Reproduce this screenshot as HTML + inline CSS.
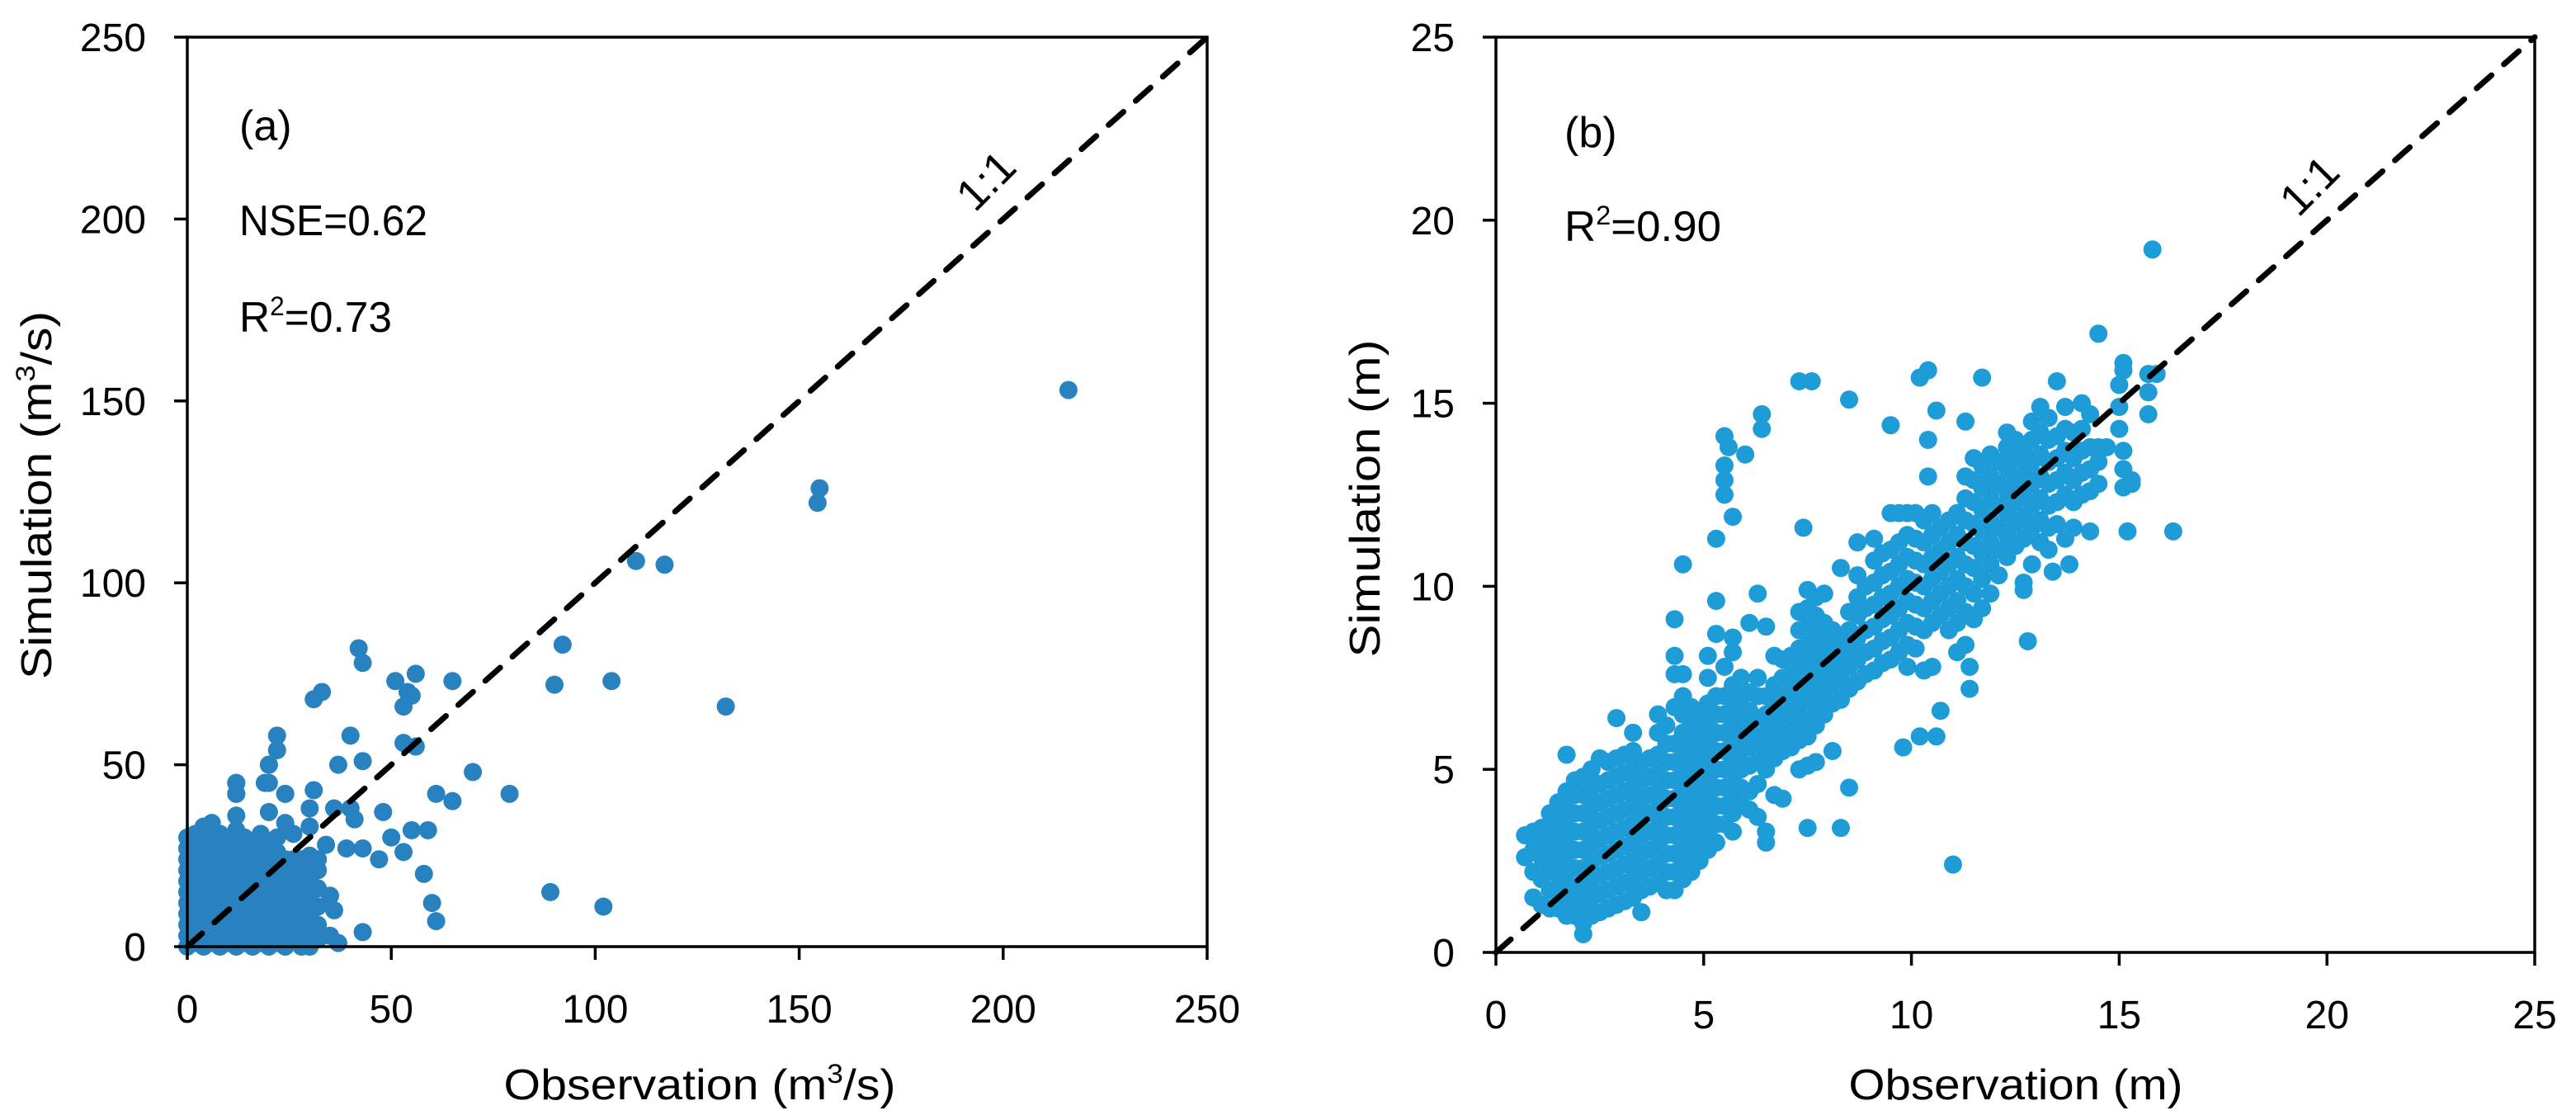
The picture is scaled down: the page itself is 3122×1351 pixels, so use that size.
<!DOCTYPE html>
<html><head><meta charset="utf-8"><style>
html,body{margin:0;padding:0;background:#fff}
svg{display:block}
text{font-family:"Liberation Sans",sans-serif;fill:#000}
</style></head><body>
<svg id="chart" width="3122" height="1351" viewBox="0 0 3122 1351" xmlns="http://www.w3.org/2000/svg">
<g id="pa"></g>
<g id="pb"></g>
</svg>
<script>
// Panel (a) data: columns of observation value with simulated values
const aColObs = [0,2,4,6,8,10,12,14,16,18,20,22,24,26,28,30,32];
const aColSim = [
 [0,3,6,9,12,15,18,21,24,27,30],
 [1,4,7,10,13,16,19,22,25,28,31],
 [0,3,6,9,12,15,18,21,24,27,30,33],
 [1,4,7,10,13,16,19,22,25,28,34],
 [0,3,6,9,12,15,18,21,24,27,31],
 [1,4,7,10,13,16,19,22,25,28],
 [0,3,6,9,12,15,18,21,24,27,32,36,42,45],
 [1,4,7,10,13,16,19,22,25,30],
 [0,3,6,9,12,15,18,21,24,28],
 [1,4,7,10,13,16,19,22,25,31],
 [0,3,6,9,12,15,18,21,25,29,37,45,50],
 [1,4,7,10,13,16,19,22,26,30],
 [0,3,6,9,12,16,20,24,34,42],
 [2,5,8,12,16,20,24,31],
 [0,4,8,12,16,20,24],
 [0,3,7,11,15,18,22,25,33,38],
 [2,6,11,16,21,24]
];
const aOutObs = [216,155,154.5,110,117,92,90,104,132,42,43,51,56,54,55,53,65,33,31,22,22,40,53,56,20,37,43,70,79,61,65,19,12,12,24,31,36,48,40,41,59,55,50,34,39,43,53,47,58,89,102,60,61,35,36,35,43,37,30,27,25];
const aOutSim = [153,126,122,106,105,83,72,73,66,82,78,73,75,70,69,66,73,70,68,58,54,58,56,55,50,50,51,48,42,42,40,45,45,42,42,43,38,37,38,35,32,32,30,28,27,27,26,24,20,15,11,12,7,14,10,3,4,1,8,15,20];
// Panel (b) data
const bColObs = [0.7,0.9,1.1,1.3,1.5,1.7,1.9,2.1,2.3,2.5,2.7,2.9,3.1,3.3,3.5,3.7,3.9,4.1,4.3,4.5,4.7,4.9,5.1,5.3,5.5,5.7,5.9,6.1,6.3,6.5,6.7,6.9,7.1,7.3,7.5,7.7,7.9,8.1,8.3,8.5,8.7,8.9,9.1,9.3,9.5,9.7,9.9,10.1,10.3,10.5,10.7,10.9,11.1,11.3,11.5,11.7,11.9,12.1,12.3,12.5,12.7,12.9,13.1,13.3,13.5,13.7,13.9,14.1,14.3,14.5,14.7,15.0,15.1,15.3,15.7,15.9];
const bColSim = [
 [2.6,3.2],[1.5,2.2,2.8,3.3],[1.3,2.0,2.6,3.1,3.4],[1.2,1.7,2.3,2.9,3.4,3.8],
 [1.2,1.6,2.1,2.6,3.1,3.6,4.1],[1.0,1.5,1.9,2.4,2.9,3.4,3.9,4.4,5.4],
 [1.0,1.4,1.8,2.3,2.8,3.3,3.8,4.3,4.7],[0.5,0.8,1.3,1.8,2.3,2.8,3.3,3.8,4.3,4.8],
 [1.0,1.5,2.0,2.5,3.0,3.5,4.0,4.5,5.0],[1.1,1.6,2.1,2.6,3.1,3.6,4.1,4.6,5.3],
 [1.2,1.7,2.2,2.7,3.2,3.7,4.2,4.7,5.2],[1.3,1.8,2.3,2.8,3.3,3.8,4.3,4.8,5.3,6.4],
 [1.4,1.9,2.4,2.9,3.4,3.9,4.4,4.9,5.4],[1.5,2.0,2.5,3.0,3.5,4.0,4.5,5.0,5.5,6.0],
 [1.1,1.7,2.2,2.7,3.2,3.7,4.2,4.7,5.2],[1.8,2.3,2.8,3.3,3.8,4.3,4.8,5.3],
 [1.9,2.4,2.9,3.4,3.9,4.4,4.9,5.4,6.0,6.5],[1.7,2.2,2.7,3.2,3.7,4.2,4.7,5.2,5.7,6.2],
 [1.7,2.2,2.7,3.2,3.7,4.2,4.7,5.2,5.7,6.7,7.6,8.1],[2.0,2.5,3.0,3.5,4.0,4.5,5.0,5.5,6.0,6.5,7.0,7.6],
 [2.2,2.7,3.2,3.7,4.2,4.7,5.2,5.7,6.2,6.7],[2.5,3.0,3.5,4.0,4.5,5.0,5.5,6.0,6.5],
 [2.8,3.3,3.8,4.3,4.8,5.3,5.8,6.3,6.8,7.5,8.1],[3.0,3.5,4.0,4.5,5.0,5.5,6.0,6.5,7.0,8.7],
 [3.5,4.0,4.5,5.0,5.5,6.0,6.5,7.0,7.8],[3.3,3.8,4.3,4.8,5.3,5.8,6.3,6.8,7.3,8.2,8.6],
 [4.0,4.5,5.0,5.5,6.0,6.5,7.0,7.5],[3.9,4.4,5.1,5.6,6.1,6.6,7.1,9.0],
 [3.7,4.6,5.2,5.8,6.4,7.0,7.5],[5.0,5.5,6.0,6.5,7.0,8.9],
 [4.3,5.3,5.8,6.3,6.8,7.3,8.1],[4.2,5.5,6.0,6.5,7.0,7.5,8.0],
 [5.6,6.1,6.6,7.1,7.6,8.1],[5.0,5.8,6.3,6.8,7.3,7.8,8.3,8.8,9.3],
 [5.1,5.9,6.4,6.9,7.4,7.9,8.4,8.9,9.4,9.9],[5.2,6.2,6.7,7.2,7.7,8.2,8.7,9.2,9.7],
 [6.5,7.0,7.5,8.0,8.5,9.0,9.8],[5.5,6.8,7.3,7.8,8.3,8.8],
 [6.9,7.5,8.1,8.5,10.5],[7.2,7.8,8.3,8.8,9.3],
 [7.4,8.0,8.6,9.2,9.7,10.3,11.2],[7.6,8.2,8.8,9.4,10.0],
 [7.7,8.3,8.9,9.5,10.1,10.7,11.3],[7.9,8.5,9.1,9.7,10.3,10.9],
 [8.0,8.6,9.2,9.8,10.4,11.0,12.0],[8.2,8.8,9.4,10.0,10.6,11.2,12.0],
 [7.8,8.4,9.0,9.6,10.2,10.8,11.4,12.0],[8.3,8.9,9.5,10.1,10.7,11.3,12.0],
 [7.7,8.8,9.4,10.0,10.6,11.2,11.8],[7.8,9.0,9.6,10.2,10.8,11.4,12.0],
 [9.2,9.8,10.4,11.0,11.6],[8.8,9.4,10.0,10.6,11.2,11.8],
 [8.2,9.0,9.6,10.2,10.8,11.4,12.0],[8.4,9.3,10.0,10.6,11.2,11.8,12.4,13.0,14.5],
 [9.1,9.8,10.5,11.1,11.7,12.3,12.9,13.5],[9.4,10.2,10.9,11.5,12.1,12.7,13.3],
 [9.8,10.6,11.2,11.8,12.4,13.0,13.6],[10.3,11.0,11.6,12.2,12.8,13.4],
 [10.8,11.4,12.0,12.6,13.2,13.8,14.2],[11.1,11.7,12.3,12.9,13.5,14.0],
 [9.9,10.1,11.3,11.9,12.5,13.1,13.7],[10.6,11.6,12.2,12.8,13.4,14.0,14.5],
 [11.2,11.8,12.4,13.0,13.6,14.2,14.9],[11.0,11.6,12.2,12.8,13.4,14.0,14.6],
 [11.7,12.3,12.9,13.5,14.1,15.6],[11.3,12.5,13.1,13.7,14.3,14.9],
 [11.6,12.3,12.9,13.5,14.2],[12.5,13.1,13.7,14.3,15.0],
 [11.5,12.6,13.2,13.8,14.7],[12.8,13.4,13.8],[13.8],[14.3,14.9,15.5],
 [12.7,13.2,13.7,15.9,16.1],[12.8,12.9],[14.7,15.3,15.8],[15.8]
];
const bOutObs = [15.8,14.5,16.3,15.2,11.0,12.8,5.5,5.6,5.5,5.5,5.5,5.7,6.0,6.4,6.4,7.3,7.6,8.5,10.2,10.4,11.7,9.5,10.4,10.6,10.4,5.3,7.4,4.5,4.3,5.3,6.3,9.8,10.2,10.6,10.7,8.5,8.3,7.5,6.5,6.5,3.5,2.1,11.4,11.4,13.4,13.8];
const bOutSim = [19.2,16.9,11.5,11.5,2.4,8.5,14.1,13.8,13.3,12.9,12.5,11.9,13.6,14.3,14.7,15.6,15.6,15.1,15.7,15.9,15.7,14.4,14.0,14.8,13.0,11.3,11.6,10.6,9.1,9.6,9.8,5.6,5.9,5.9,6.6,4.5,3.4,3.4,3.0,3.3,1.1,0.5,7.2,7.8,10.4,10.6];
const aTicks = [0,50,100,150,200,250];
const bTicks = [0,5,10,15,20,25];

const NS = 'http://www.w3.org/2000/svg';
function mk(parent, tag, attrs, txt){
  const e = document.createElementNS(NS, tag);
  for (const k in attrs) e.setAttribute(k, attrs[k]);
  if (txt !== undefined) e.textContent = txt;
  parent.appendChild(e); return e;
}
function panel(g, cfg){
  const sx = v => cfg.x0 + v / cfg.max * (cfg.x1 - cfg.x0);
  const sy = v => cfg.y0 - v / cfg.max * (cfg.y0 - cfg.y1);
  const pts = mk(g, 'g', {});
  
  
  cfg.colObs.forEach((x, i) => {
    cfg.colSim[i].forEach(y => {
      const c = mk(pts, 'circle', {cx: sx(x), cy: sy(y), r: 11, fill: cfg.color});
      
      
    });
  });
  cfg.outObs.forEach((x, i) => {
    const c = mk(pts, 'circle', {cx: sx(x), cy: sy(cfg.outSim[i]), r: 11, fill: cfg.color});
    
    
  });
  const ln = mk(g, 'line', {x1: sx(0), y1: sy(0), x2: sx(cfg.max), y2: sy(cfg.max), stroke: '#000', 'stroke-width': 7, 'stroke-dasharray': '24 20', 'stroke-linecap': 'round'});
  
  
  const fr = mk(g, 'rect', {x: cfg.x0, y: cfg.y1, width: cfg.x1 - cfg.x0, height: cfg.y0 - cfg.y1, fill: 'none', stroke: '#000', 'stroke-width': 3.5});
  
  
  cfg.ticks.forEach(t => {
    const tx = mk(g, 'line', {x1: sx(t), x2: sx(t), y1: cfg.y0, y2: cfg.y0 + 16, stroke: '#000', 'stroke-width': 3.5});
    
    
    const lx = mk(g, 'text', {x: sx(t), y: cfg.y0 + 92, 'font-size': 48, 'text-anchor': 'middle'}, String(t));
    
    
    const ty = mk(g, 'line', {x1: cfg.x0 - 16, x2: cfg.x0, y1: sy(t), y2: sy(t), stroke: '#000', 'stroke-width': 3.5});
    
    
    const ly = mk(g, 'text', {x: cfg.x0 - 50, y: sy(t) + 17, 'font-size': 48, 'text-anchor': 'end'}, String(t));
    
    
  });
}
panel(document.getElementById('pa'), {x0: 227, x1: 1463, y0: 1147, y1: 45, max: 250, color: '#2882C0',
  colObs: aColObs, colSim: aColSim, outObs: aOutObs, outSim: aOutSim, ticks: aTicks});
panel(document.getElementById('pb'), {x0: 1813, x1: 3072, y0: 1154, y1: 45, max: 25, color: '#1E9CD8',
  colObs: bColObs, colSim: bColSim, outObs: bOutObs, outSim: bOutSim, ticks: bTicks});
</script>
<svg style="position:absolute;left:0;top:0" width="3122" height="1351">
  <text x="290" y="170" font-size="52">(a)</text>
  <text x="290" y="285" font-size="52" textLength="228" lengthAdjust="spacingAndGlyphs">NSE=0.62</text>
  <text x="290" y="402" font-size="52" textLength="185" lengthAdjust="spacingAndGlyphs">R<tspan dy="-20" font-size="32">2</tspan><tspan dy="20">=0.73</tspan></text>
  <text x="0" y="0" font-size="54" text-anchor="middle" transform="translate(1208,232) rotate(-45)">1:1</text>
  <text x="848" y="1332" font-size="52" text-anchor="middle" textLength="475" lengthAdjust="spacingAndGlyphs">Observation (m<tspan dy="-20" font-size="32">3</tspan><tspan dy="20">/s)</tspan></text>
  <text x="0" y="0" font-size="52" text-anchor="middle" textLength="446" lengthAdjust="spacingAndGlyphs" transform="translate(62,600) rotate(-90)">Simulation (m<tspan dy="-20" font-size="32">3</tspan><tspan dy="20">/s)</tspan></text>
  <text x="1896" y="178" font-size="52">(b)</text>
  <text x="1896" y="292" font-size="52" textLength="190" lengthAdjust="spacingAndGlyphs">R<tspan dy="-20" font-size="32">2</tspan><tspan dy="20">=0.90</tspan></text>
  <text x="0" y="0" font-size="54" text-anchor="middle" transform="translate(2812,238) rotate(-45)">1:1</text>
  <text x="2443" y="1332" font-size="52" text-anchor="middle" textLength="405" lengthAdjust="spacingAndGlyphs">Observation (m)</text>
  <text x="0" y="0" font-size="52" text-anchor="middle" textLength="385" lengthAdjust="spacingAndGlyphs" transform="translate(1672,604) rotate(-90)">Simulation (m)</text>
</svg>
</body></html>
